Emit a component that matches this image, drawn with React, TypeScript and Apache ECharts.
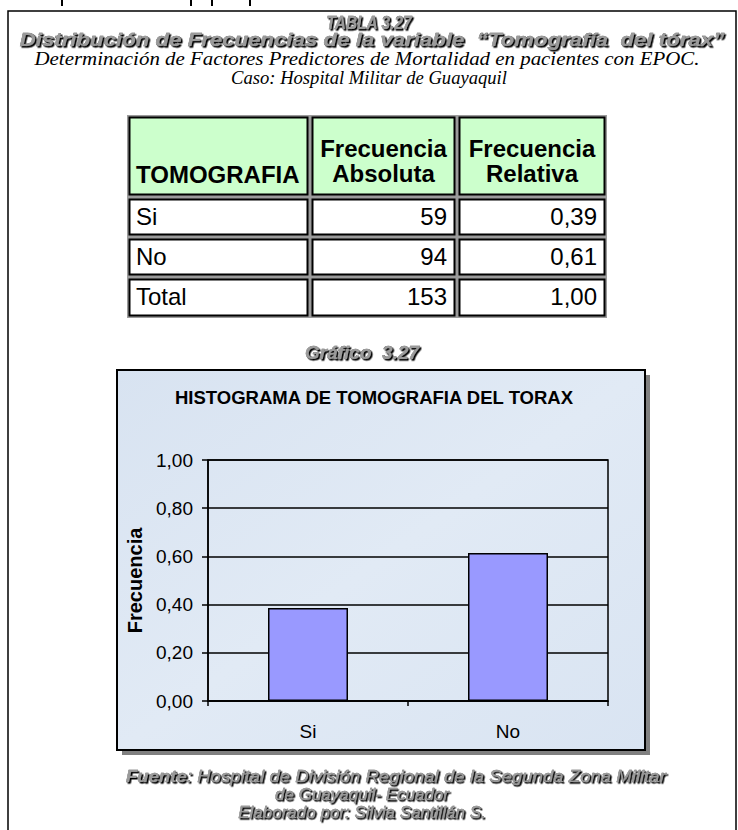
import React, { useEffect, useRef } from 'react';
import * as echarts from 'echarts';

// ---- data ----
const categories = ['Si', 'No'];
const relativeFrequency = [0.386, 0.614];
const tableHeader = ['TOMOGRAFIA', 'Frecuencia\nAbsoluta', 'Frecuencia\nRelativa'];
const tableLabels = ['Si', 'No', 'Total'];
const tableAbsolute = ['59', '94', '153'];
const tableRelative = ['0,39', '0,61', '1,00'];
const yMin = 0;
const yMax = 1;
const yStep = 0.2;

const SANS = "'Liberation Sans', Arial, sans-serif";
const SERIF = "'Liberation Serif', 'Times New Roman', serif";

let measureCtx: CanvasRenderingContext2D | null = null;
function measure(text: string, font: string): number {
  if (!measureCtx) measureCtx = document.createElement('canvas').getContext('2d');
  if (!measureCtx) return text.length * 8;
  measureCtx.font = font;
  return measureCtx.measureText(text).width;
}

const shadowStyle = {
  fill: '#9a9a9a',
  stroke: '#3a3a3a',
  lineWidth: 0.4,
  textShadowColor: '#000',
  textShadowBlur: 1,
  textShadowOffsetX: 1.5,
  textShadowOffsetY: 1.5,
};

function fitText(text: string, cx: number, cy: number, fontSize: number, weight: string, style: string, family: string, targetW: number | null, extra: any = {}) {
  const font = `${style} ${weight} ${fontSize}px ${family}`;
  const w = measure(text, font);
  const sx = targetW ? targetW / w : 1;
  return {
    type: 'text',
    x: cx,
    y: cy,
    scaleX: sx,
    style: {
      text,
      fontSize,
      fontWeight: weight,
      fontStyle: style,
      fontFamily: family,
      textAlign: 'center',
      textVerticalAlign: 'middle',
      fill: '#000',
      ...extra,
    },
  };
}

export default function App() {
  const ref = useRef<HTMLDivElement>(null);

  useEffect(() => {
    if (!ref.current) return;
    const chart = echarts.init(ref.current, undefined, { renderer: 'svg' });

    const colX = [127, 310, 457, 607];
    const rowY = [115, 197, 237, 277, 318];

    const graphics: any[] = [];

    // fragments of previous page line
    [61, 190, 211, 249].forEach((x) => {
      graphics.push({ type: 'rect', shape: { x, y: 0, width: 2, height: 6 }, style: { fill: '#000' } });
    });

    // page frame
    graphics.push({
      type: 'rect',
      shape: { x: 8, y: 11, width: 728, height: 840 },
      style: { fill: 'none', stroke: '#000', lineWidth: 1.5 },
    });

    // headings
    graphics.push(fitText('TABLA 3.27', 369, 22, 19, 'bold', 'italic', SANS, 86, shadowStyle));
    graphics.push(
      fitText('Distribución de Frecuencias de la variable  “Tomografía  del tórax”', 372, 39, 19, 'bold', 'italic', SANS, 705, shadowStyle)
    );
    graphics.push(
      fitText('Determinación de Factores Predictores de Mortalidad en pacientes con EPOC.', 367, 58, 19, 'normal', 'italic', SERIF, 665)
    );
    graphics.push(fitText('Caso: Hospital Militar de Guayaquil', 369, 78, 18, 'normal', 'italic', SERIF, 276));

    // table
    graphics.push({
      type: 'rect',
      shape: { x: colX[0], y: rowY[0], width: colX[3] - colX[0], height: rowY[4] - rowY[0] },
      style: { fill: '#9b9b9b' },
    });
    for (let r = 0; r < 4; r++) {
      for (let c = 0; c < 3; c++) {
        graphics.push({
          type: 'rect',
          shape: {
            x: colX[c] + 2.5,
            y: rowY[r] + 2.5,
            width: colX[c + 1] - colX[c] - 5,
            height: rowY[r + 1] - rowY[r] - 5,
          },
          style: { fill: r === 0 ? '#CCFFCC' : '#ffffff', stroke: '#000', lineWidth: 2 },
        });
      }
    }
    // header texts
    graphics.push({
      type: 'text',
      x: 136,
      y: 174,
      style: { text: tableHeader[0], fontSize: 24, fontWeight: 'bold', fontFamily: SANS, fill: '#000', textAlign: 'left', textVerticalAlign: 'middle' },
    });
    [1, 2].forEach((c) => {
      const cx = (colX[c] + colX[c + 1]) / 2;
      graphics.push({
        type: 'text',
        x: cx,
        y: 161,
        style: {
          text: tableHeader[c],
          fontSize: 24,
          fontWeight: 'bold',
          fontFamily: SANS,
          fill: '#000',
          textAlign: 'center',
          textVerticalAlign: 'middle',
          lineHeight: 25,
        },
      });
    });
    tableLabels.forEach((lab, i) => {
      const cy = (rowY[i + 1] + rowY[i + 2]) / 2 - 1;
      graphics.push({
        type: 'text',
        x: 136,
        y: cy,
        style: { text: lab, fontSize: 24, fontFamily: SANS, fill: '#000', textAlign: 'left', textVerticalAlign: 'middle' },
      });
      graphics.push({
        type: 'text',
        x: colX[2] - 10,
        y: cy,
        style: { text: tableAbsolute[i], fontSize: 24, fontFamily: SANS, fill: '#000', textAlign: 'right', textVerticalAlign: 'middle' },
      });
      graphics.push({
        type: 'text',
        x: colX[3] - 10,
        y: cy,
        style: { text: tableRelative[i], fontSize: 24, fontFamily: SANS, fill: '#000', textAlign: 'right', textVerticalAlign: 'middle' },
      });
    });

    // chart caption
    graphics.push(fitText('Gráfico  3.27', 362, 352, 19, 'bold', 'italic', SANS, null, shadowStyle));

    // chart box with shadow
    graphics.push({ type: 'rect', z: -20, shape: { x: 122, y: 375, width: 528, height: 380 }, style: { fill: '#808080' } });
    graphics.push({
      type: 'rect',
      z: -19,
      shape: { x: 117, y: 370, width: 528, height: 380 },
      style: {
        fill: {
          type: 'linear',
          x: 0,
          y: 0,
          x2: 1,
          y2: 1,
          colorStops: [
            { offset: 0, color: '#d8e3f1' },
            { offset: 0.5, color: '#e1eaf5' },
            { offset: 1, color: '#d9e4f2' },
          ],
        },
        stroke: '#000',
        lineWidth: 2,
      },
    });

    // footer
    const fuenteFont = `italic bold 17px ${SANS}`;
    const restFont = `italic normal 17px ${SANS}`;
    const rest = ': Hospital de División Regional de la Segunda Zona Militar';
    const wFooter = measure('Fuente', fuenteFont) + measure(rest, restFont);
    graphics.push({
      type: 'text',
      x: 126,
      y: 776,
      scaleX: 540 / wFooter,
      style: {
        text: '{b|Fuente}' + rest,
        fontSize: 17,
        fontStyle: 'italic',
        fontFamily: SANS,
        textAlign: 'left',
        textVerticalAlign: 'middle',
        ...shadowStyle,
        rich: { b: { fontWeight: 'bold', fontStyle: 'italic', fontSize: 17, fontFamily: SANS, ...shadowStyle } },
      },
    });
    graphics.push(fitText('de Guayaquil- Ecuador', 362, 794, 17, 'normal', 'italic', SANS, null, shadowStyle));
    graphics.push(fitText('Elaborado por: Silvia Santillán S.', 362, 812, 17, 'normal', 'italic', SANS, null, shadowStyle));

    const fmt = (v: number) => v.toFixed(2).replace('.', ',');

    chart.setOption({
      animation: false,
      backgroundColor: '#ffffff',
      title: {
        text: 'HISTOGRAMA DE TOMOGRAFIA DEL TORAX',
        left: 374,
        top: 388,
        padding: 0,
        textAlign: 'center',
        textStyle: { fontSize: 18.5, fontWeight: 'bold', color: '#000', fontFamily: SANS },
      },
      graphic: { elements: graphics },
      grid: {
        left: 208,
        top: 460,
        width: 400,
        height: 241,
        show: true,
        borderColor: '#000',
        borderWidth: 1.5,
        backgroundColor: 'transparent',
      },
      xAxis: {
        type: 'category',
        data: categories,
        axisLine: { show: true, lineStyle: { color: '#000', width: 1.5 } },
        axisTick: { show: true, length: 5, alignWithLabel: false, lineStyle: { color: '#000', width: 1.5 } },
        axisLabel: { fontSize: 19, color: '#000', fontFamily: SANS, margin: 21 },
        splitLine: { show: false },
      },
      yAxis: {
        type: 'value',
        min: yMin,
        max: yMax,
        interval: yStep,
        name: 'Frecuencia',
        nameLocation: 'middle',
        nameGap: 63,
        nameRotate: 90,
        nameTextStyle: { fontSize: 20, fontWeight: 'bold', color: '#000', fontFamily: SANS },
        axisLine: { show: true, lineStyle: { color: '#000', width: 1.5 } },
        axisTick: { show: true, length: 6, lineStyle: { color: '#000', width: 1.5 } },
        axisLabel: { fontSize: 19, color: '#000', fontFamily: SANS, margin: 15, formatter: fmt },
        splitLine: { show: true, lineStyle: { color: '#000', width: 1.5 } },
      },
      series: [
        {
          type: 'bar',
          data: relativeFrequency,
          barWidth: 80,
          itemStyle: { color: '#9999FF', borderColor: '#000', borderWidth: 1.5 },
        },
      ],
    });

    return () => chart.dispose();
  }, []);

  return <div ref={ref} style={{ position: 'absolute', left: 0, top: 0, width: 738, height: 830 }} />;
}
